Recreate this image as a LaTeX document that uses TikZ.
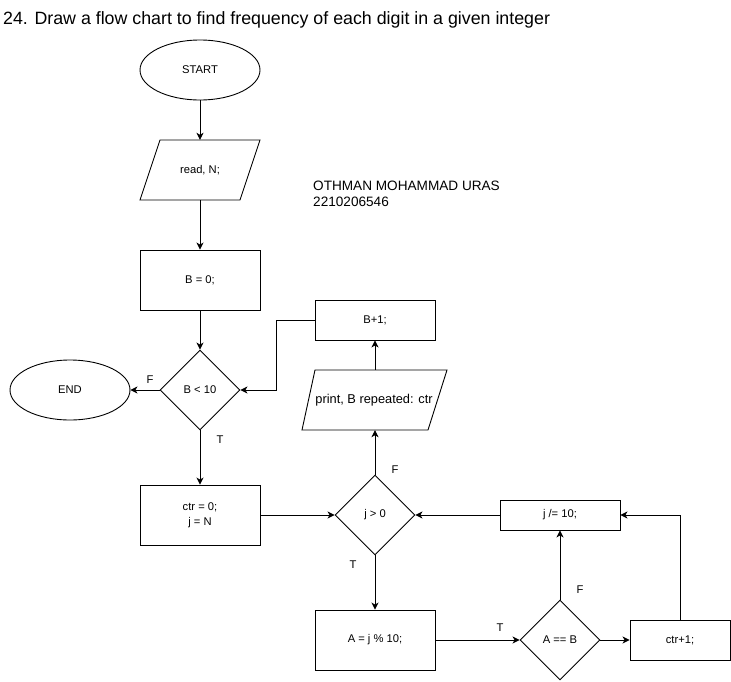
\documentclass[tikz,border=0pt]{standalone}
\usepackage{fontspec}
\setmainfont{Liberation Sans}
\usetikzlibrary{shapes.geometric,arrows.meta}
\begin{document}
\begin{tikzpicture}[x=1pt,y=-1pt,
  every node/.style={font=\fontsize{11.2}{14.5}\selectfont},
  ln/.style={line width=0.9pt},
  box/.style={draw, rectangle, inner sep=0pt, ln},
  term/.style={draw, ellipse, inner sep=0pt, ln, minimum width=120pt, minimum height=60pt},
  dec/.style={draw, diamond, inner sep=0pt, ln, minimum width=80pt, minimum height=80pt},
  io/.style={rectangle, inner sep=0pt},
  arr/.style={draw, ln, -{Stealth[length=7pt,width=7pt,inset=2pt]}},
  lbl/.style={inner sep=0pt}]
\fill[white] (0,0) rectangle (731,681);
\useasboundingbox (0,0) rectangle (731,681);

\node[anchor=base west, inner sep=0pt, font=\fontsize{17.8}{20}\selectfont] (title) at (3,24)
  {24. Draw a flow chart to find frequency of each digit in a given integer};
\node[anchor=west, align=left, inner sep=0pt, font=\fontsize{13.6}{16}\selectfont] (name) at (313,194)
  {OTHMAN MOHAMMAD URAS\\2210206546};

\node[term] (start) at (200,70) {START};
\node[io, minimum width=120pt, minimum height=60pt] (read) at (200,170) {read, N;};
\draw[ln] (160,140) -- (260,140) -- (240,200) -- (140,200) -- cycle;
\node[box, minimum width=120pt, minimum height=60pt] (b0) at (200,280) {B = 0;};
\node[dec] (d1) at (200,390) {B < 10};
\node[term] (end) at (70,390) {END};
\node[box, minimum width=120pt, minimum height=40pt] (bp1) at (375,320) {B+1;};
\node[io, minimum width=120pt, minimum height=60pt, font=\fontsize{12.8}{15}\selectfont] (print) at (374,400) {print, B repeated: ctr};
\draw[ln] (315,370) -- (447,370) -- (428,430) -- (302,430) -- cycle;
\node[box, minimum width=120pt, minimum height=60pt, align=center] (ctr0) at (200,515) {ctr = 0;\\j = N};
\node[dec] (d2) at (375,515) {j > 0};
\node[box, minimum width=120pt, minimum height=60pt] (amod) at (375,640) {A = j \% 10;};
\node[dec] (d3) at (560,640) {A == B};
\node[box, minimum width=120pt, minimum height=30pt] (jdiv) at (560,515) {j /= 10;};
\node[box, minimum width=100pt, minimum height=40pt] (ctr1) at (680,640) {ctr+1;};

\draw[arr] (start.south) -- (read.north);
\draw[arr] (read.south) -- (b0.north);
\draw[arr] (b0.south) -- (d1.north);
\draw[arr] (d1.west) -- (end.east);
\draw[arr] (d1.south) -- (ctr0.north);
\draw[arr] (ctr0.east) -- (d2.west);
\draw[arr] (d2.south) -- (amod.north);
\draw[arr] (amod.east) -- (d3.west);
\draw[arr] (d3.east) -- (ctr1.west);
\draw[arr] (d3.north) -- (jdiv.south);
\draw[arr] (jdiv.west) -- (d2.east);
\draw[arr] (ctr1.north) |- (jdiv.east);
\draw[arr] (d2.north) -- ([xshift=1pt]print.south);
\draw[arr] ([xshift=1pt]print.north) -- (bp1.south);
\draw[arr] (bp1.west) -- ++(-38,0) |- (d1.east);

\node[lbl] (f1) at (150,380) {F};
\node[lbl] (t1) at (220,440) {T};
\node[lbl] (f2) at (395,470) {F};
\node[lbl] (t2) at (353,565) {T};
\node[lbl] (t3) at (500,628) {T};
\node[lbl] (f3) at (580,590) {F};
\end{tikzpicture}
\end{document}
